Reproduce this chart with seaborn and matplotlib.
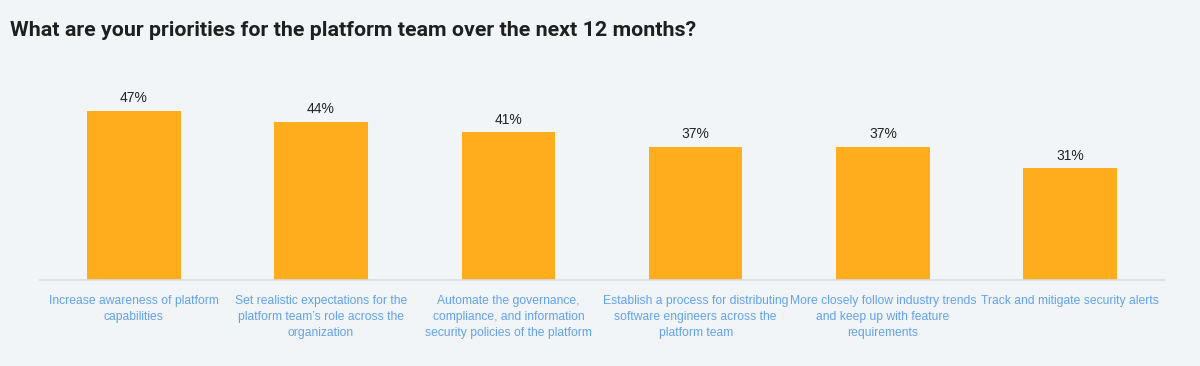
import matplotlib
matplotlib.use("Agg")
import matplotlib.pyplot as plt
import seaborn as sns
import pandas as pd

# data
categories = [
    "Increase awareness of platform\ncapabilities",
    "Set realistic expectations for the\nplatform team\u2019s role across the\norganization",
    "Automate the governance,\ncompliance, and information\nsecurity policies of the platform",
    "Establish a process for distributing\nsoftware engineers across the\nplatform team",
    "More closely follow industry trends\nand keep up with feature\nrequirements",
    "Track and mitigate security alerts",
]
values = [47, 44, 41, 37, 37, 31]

df = pd.DataFrame({"priority": categories, "share": values})

bg = "#f2f5f7"
bar_color = "#ffad1c"
label_color = "#62a2f0"

sns.set_theme(style="white")
plt.rcParams["font.family"] = ["Liberation Sans Narrow", "Liberation Sans", "DejaVu Sans"]

fig = plt.figure(figsize=(12, 3.66), dpi=100, facecolor=bg)
ax = fig.add_axes([40 / 1200, 86 / 366, 1124 / 1200, 180 / 366])
ax.set_facecolor(bg)

sns.barplot(data=df, x="priority", y="share", color=bar_color, width=0.5,
            saturation=1, linewidth=0, ax=ax)

ax.set_xlim(-0.5, 5.5)
ax.set_ylim(0, 50)
ax.set_xlabel("")
ax.set_ylabel("")
ax.set_yticks([])
ax.tick_params(axis="x", length=0, pad=11, labelsize=8.7, labelcolor=label_color)
for lbl in ax.get_xticklabels():
    lbl.set_linespacing(1.45)

for side in ["top", "right", "left"]:
    ax.spines[side].set_visible(False)
ax.spines["bottom"].set_color("#d9dde0")
ax.spines["bottom"].set_linewidth(1.2)

for i, v in enumerate(values):
    ax.text(i, v + 1.6, f"{v}%", ha="center", va="bottom", fontsize=10, color="#222222")

fig.text(10 / 1200, 1 - 30 / 366, "What are your priorities for the platform team over the next 12 months?",
         fontsize=15.4, fontweight="bold", color="#1f1f1f", va="center", ha="left",
         family=["Roboto", "DejaVu Sans"])

fig.savefig("out.png", dpi=100, facecolor=bg)
